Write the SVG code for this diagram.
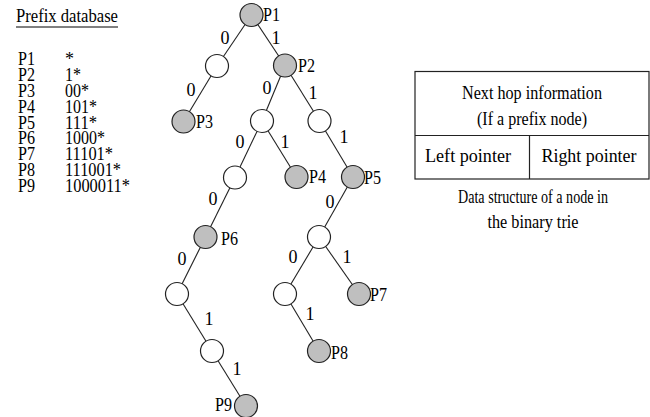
<svg xmlns="http://www.w3.org/2000/svg" width="650" height="417" viewBox="0 0 650 417">
<style>
text{font-family:"Liberation Serif","Times New Roman",serif;font-size:18px;fill:#000}
.c{text-anchor:middle}
.e{stroke:#222;stroke-width:1.1;fill:none}
.w{fill:#fff;stroke:#222;stroke-width:1.2}
.g{fill:#bfbfbf;stroke:#222;stroke-width:1.2}
.b{fill:none;stroke:#222;stroke-width:1.2}
</style>
<rect width="650" height="417" fill="#fff"/>
<g id="prefix-db">
<text x="16" y="22" textLength="102" lengthAdjust="spacingAndGlyphs">Prefix database</text>
<line x1="16" y1="27" x2="118" y2="27" stroke="#000" stroke-width="1"/>
<text x="18" y="65" textLength="17" lengthAdjust="spacingAndGlyphs">P1</text><text x="65" y="65">*</text>
<text x="18" y="81" textLength="17" lengthAdjust="spacingAndGlyphs">P2</text><text x="65" y="81" textLength="16" lengthAdjust="spacingAndGlyphs">1*</text>
<text x="18" y="97" textLength="17" lengthAdjust="spacingAndGlyphs">P3</text><text x="65" y="97" textLength="24" lengthAdjust="spacingAndGlyphs">00*</text>
<text x="18" y="113" textLength="17" lengthAdjust="spacingAndGlyphs">P4</text><text x="65" y="113" textLength="32" lengthAdjust="spacingAndGlyphs">101*</text>
<text x="18" y="129" textLength="17" lengthAdjust="spacingAndGlyphs">P5</text><text x="65" y="129" textLength="32" lengthAdjust="spacingAndGlyphs">111*</text>
<text x="18" y="144" textLength="17" lengthAdjust="spacingAndGlyphs">P6</text><text x="65" y="144" textLength="40" lengthAdjust="spacingAndGlyphs">1000*</text>
<text x="18" y="160" textLength="17" lengthAdjust="spacingAndGlyphs">P7</text><text x="65" y="160" textLength="48" lengthAdjust="spacingAndGlyphs">11101*</text>
<text x="18" y="176" textLength="17" lengthAdjust="spacingAndGlyphs">P8</text><text x="65" y="176" textLength="56" lengthAdjust="spacingAndGlyphs">111001*</text>
<text x="18" y="192" textLength="17" lengthAdjust="spacingAndGlyphs">P9</text><text x="65" y="192" textLength="65" lengthAdjust="spacingAndGlyphs">1000011*</text>
</g>
<g id="connectors">
<line class="e" x1="251.5" y1="15" x2="217" y2="66"/>
<line class="e" x1="251.5" y1="15" x2="285" y2="65.5"/>
<line class="e" x1="217" y1="66" x2="183.5" y2="121.5"/>
<line class="e" x1="285" y1="65.5" x2="262" y2="121"/>
<line class="e" x1="285" y1="65.5" x2="319.5" y2="121"/>
<line class="e" x1="262" y1="121" x2="235" y2="177.5"/>
<line class="e" x1="262" y1="121" x2="296.5" y2="177"/>
<line class="e" x1="319.5" y1="121" x2="353" y2="177"/>
<line class="e" x1="235" y1="177.5" x2="205.5" y2="237"/>
<line class="e" x1="353" y1="177" x2="319" y2="237"/>
<line class="e" x1="205.5" y1="237" x2="177" y2="294"/>
<line class="e" x1="319" y1="237" x2="285" y2="294"/>
<line class="e" x1="319" y1="237" x2="359" y2="294"/>
<line class="e" x1="177" y1="294" x2="212" y2="351"/>
<line class="e" x1="285" y1="294" x2="319" y2="351"/>
<line class="e" x1="212" y1="351" x2="246" y2="406"/>
<g id="edge-labels">
<text class="c" x="225" y="44">0</text>
<text class="c" x="276" y="44">1</text>
<text class="c" x="191" y="96">0</text>
<text class="c" x="267" y="94">0</text>
<text class="c" x="313" y="99">1</text>
<text class="c" x="240" y="148">0</text>
<text class="c" x="285" y="148">1</text>
<text class="c" x="344" y="143">1</text>
<text class="c" x="213" y="205">0</text>
<text class="c" x="330" y="208">0</text>
<text class="c" x="182" y="265">0</text>
<text class="c" x="293" y="263">0</text>
<text class="c" x="347" y="263">1</text>
<text class="c" x="209" y="325">1</text>
<text class="c" x="310" y="320">1</text>
<text class="c" x="237" y="375">1</text>
</g>
</g>
<g id="P1"><circle class="g" cx="251.5" cy="15" r="11.5"/><text x="263" y="21" textLength="17" lengthAdjust="spacingAndGlyphs">P1</text></g>
<g id="n0"><circle class="w" cx="217" cy="66" r="11.5"/></g>
<g id="P2"><circle class="g" cx="285" cy="65.5" r="11.5"/><text x="298" y="72" textLength="17" lengthAdjust="spacingAndGlyphs">P2</text></g>
<g id="P3"><circle class="g" cx="183.5" cy="121.5" r="11.5"/><text x="196" y="128" textLength="17" lengthAdjust="spacingAndGlyphs">P3</text></g>
<g id="n10"><circle class="w" cx="262" cy="121" r="11.5"/></g>
<g id="n11"><circle class="w" cx="319.5" cy="121" r="11.5"/></g>
<g id="n100"><circle class="w" cx="235" cy="177.5" r="11.5"/></g>
<g id="P4"><circle class="g" cx="296.5" cy="177" r="11.5"/><text x="309" y="183" textLength="17" lengthAdjust="spacingAndGlyphs">P4</text></g>
<g id="P5"><circle class="g" cx="353" cy="177" r="11.5"/><text x="364" y="184" textLength="17" lengthAdjust="spacingAndGlyphs">P5</text></g>
<g id="P6"><circle class="g" cx="205.5" cy="237" r="11.5"/><text x="221" y="245" textLength="17" lengthAdjust="spacingAndGlyphs">P6</text></g>
<g id="n1110"><circle class="w" cx="319" cy="237" r="11.5"/></g>
<g id="n10000"><circle class="w" cx="177" cy="294" r="11.5"/></g>
<g id="n11100"><circle class="w" cx="285" cy="294" r="11.5"/></g>
<g id="P7"><circle class="g" cx="359" cy="294" r="11.5"/><text x="370" y="301" textLength="17" lengthAdjust="spacingAndGlyphs">P7</text></g>
<g id="n100001"><circle class="w" cx="212" cy="351" r="11.5"/></g>
<g id="P8"><circle class="g" cx="319" cy="351" r="11.5"/><text x="331" y="359" textLength="17" lengthAdjust="spacingAndGlyphs">P8</text></g>
<g id="P9"><circle class="g" cx="246" cy="406" r="11.5"/><text x="215" y="411" textLength="17" lengthAdjust="spacingAndGlyphs">P9</text></g>
<g id="node-structure">
<rect class="b" x="415" y="71.5" width="234" height="107.5"/>
<line class="b" x1="415" y1="135.5" x2="649" y2="135.5"/>
<line class="b" x1="529.5" y1="135.5" x2="529.5" y2="179"/>
<text class="c" x="532" y="99" textLength="140" lengthAdjust="spacingAndGlyphs">Next hop information</text>
<text class="c" x="532" y="125" textLength="110" lengthAdjust="spacingAndGlyphs">(If a prefix node)</text>
<text class="c" x="468" y="162" textLength="86" lengthAdjust="spacingAndGlyphs">Left pointer</text>
<text class="c" x="589" y="162" textLength="95" lengthAdjust="spacingAndGlyphs">Right pointer</text>
<text class="c" x="533" y="203" textLength="150" lengthAdjust="spacingAndGlyphs">Data structure of a node in</text>
<text class="c" x="533" y="228" textLength="91" lengthAdjust="spacingAndGlyphs">the binary trie</text>
</g>
</svg>
